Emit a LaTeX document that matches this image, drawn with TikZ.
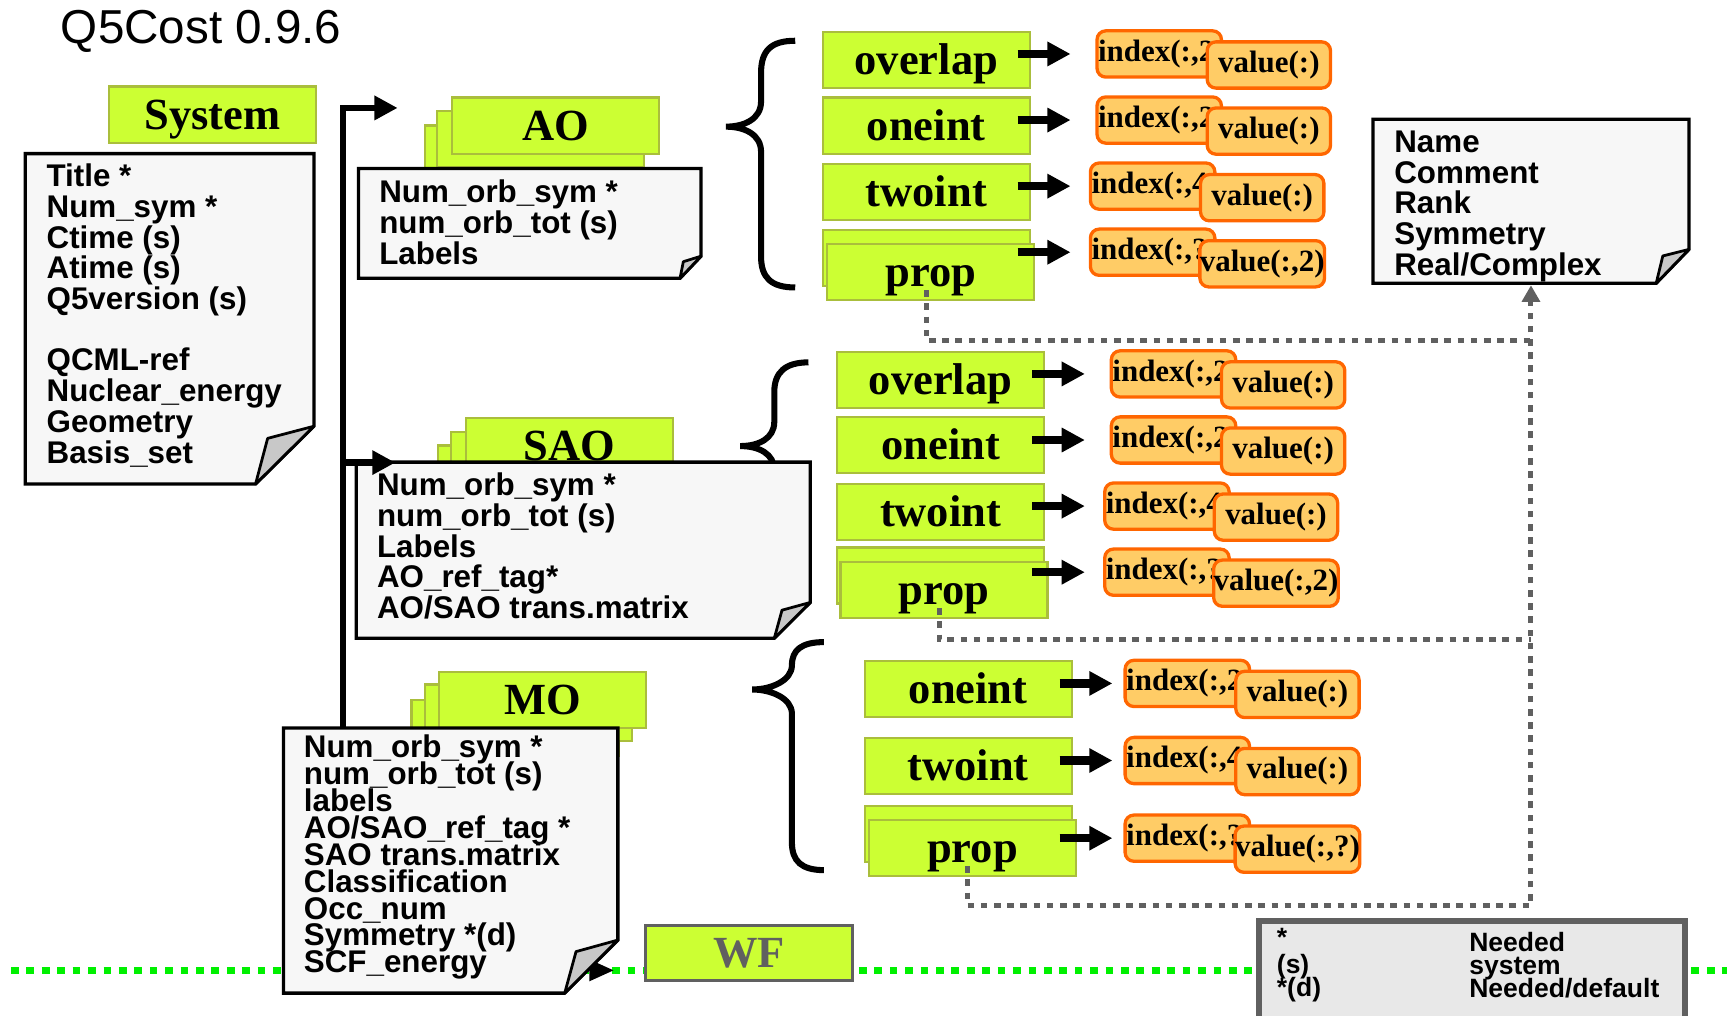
\documentclass[tikz,border=0pt]{standalone}
\usepackage{fontspec}
\newfontfamily\arialf{Liberation Sans}
\newfontfamily\timesf{Liberation Serif}
\usetikzlibrary{arrows.meta}
\definecolor{lfill}{RGB}{204,255,51}
\definecolor{lbord}{RGB}{170,190,60}
\definecolor{ofill}{RGB}{255,204,102}
\definecolor{obord}{RGB}{255,102,0}
\definecolor{pagefill}{RGB}{247,247,247}
\definecolor{foldfill}{RGB}{200,200,200}
\definecolor{dotgray}{RGB}{96,96,96}
\definecolor{dotgreen}{RGB}{0,240,0}
\definecolor{legfill}{RGB}{232,232,232}
\lineskiplimit=-100pt
\tikzset{
  plate/.style={draw=lbord, fill=lfill, line width=0.04cm, minimum width=3.76cm, minimum height=1.02cm, inner sep=0pt},
  lbl/.style={plate, font=\timesf\bfseries\fontsize{23}{26}\selectfont, text height=15.2pt, text depth=0pt},
  ixbox/.style={draw=obord, fill=ofill, line width=0.06cm, rounded corners=0.16cm, minimum height=0.84cm, inner xsep=0.02cm, inner ysep=0pt, text width=2.22cm, align=left, font=\timesf\bfseries\fontsize{16}{18}\selectfont},
  valbox/.style={draw=obord, fill=ofill, line width=0.06cm, rounded corners=0.16cm, minimum width=2.24cm, minimum height=0.84cm, inner sep=0pt, font=\timesf\bfseries\fontsize{16}{18}\selectfont},
  page/.style={draw=black, fill=pagefill, line width=0.06cm},
  fold/.style={draw=black, fill=foldfill, line width=0.05cm, line join=round},
  notetxt/.style={anchor=north west, inner sep=0pt, align=left, font=\arialf\bfseries\fontsize{16.2}{15.88}\selectfont},
  legtxt/.style={anchor=north west, inner sep=0pt, align=left, font=\arialf\bfseries\fontsize{13.7}{12}\selectfont},
  fatarr/.style={line width=0.15cm, -{Triangle[length=0.42cm,width=0.42cm]}},
  spine/.style={line width=0.12cm, -{Triangle[length=0.42cm,width=0.42cm]}},
  brace/.style={line width=0.11cm},
  graydot/.style={draw=dotgray, line width=0.09cm, dash pattern=on 0.12cm off 0.12cm},
  greendot/.style={draw=dotgreen, line width=0.12cm, dash pattern=on 0.14cm off 0.14cm}
}
\begin{document}
\begin{tikzpicture}[x=0.02cm,y=-0.02cm]
\useasboundingbox (0,0) rectangle (1568,922);

\coordinate (gL) at (10,881);
\coordinate (gR) at (1568,881);
\draw[greendot] (gL) -- (gR);
\fill (535,871) -- (557,881) -- (535,891) -- cycle;

\node[anchor=base west, inner sep=0pt, font=\arialf\fontsize{24.6}{28}\selectfont] (title) at (55,39.5) {Q5Cost 0.9.6};

\node[lbl] (sys) at (193,104) {System};
\draw[page] (23,139.5) -- (285,139.5) -- (285,387) -- (232,439.5) -- (23,439.5) -- cycle;
\draw[fold] (285,387) -- (243,398) -- (232,439.5) -- cycle;
\node[notetxt] (sysTxt) at (42,148.4) {Title *\\Num\_sym *\\Ctime (s)\\Atime (s)\\Q5version (s)\\[15.88pt]QCML-ref\\Nuclear\_energy\\Geometry\\Basis\_set};

\draw[brace] (722,37) .. controls (700,37) and (691,46) .. (691,66) -- (691,92) .. controls (691,108) and (676,115) .. (659,115) .. controls (676,115) and (691,122) .. (691,138) -- (691,233) .. controls (691,252) and (700,261) .. (722,261);
\draw[brace] (734,329) .. controls (713,329) and (703,338) .. (703,356) -- (703,383) .. controls (703,398) and (689,405) .. (672,405) .. controls (689,405) and (703,412) .. (703,427) -- (703,480) .. controls (703,498) and (713,505) .. (734,505);
\draw[brace] (748,583) .. controls (728,583) and (719,590) .. (719,604) .. controls (719,618) and (700,626) .. (683,626) .. controls (700,626) and (719,634) .. (719,648) -- (719,765) .. controls (719,782) and (728,790) .. (748,790);

\node[plate] (aoB) at (480,139.5) {};
\node[plate] (aoM) at (490.5,126) {};
\node[lbl] (ao) at (504.5,114) {AO};
\draw[page] (325.5,153) -- (636.5,153) -- (636.5,232.6) -- (617.4,252.7) -- (325.5,252.7) -- cycle;
\draw[fold] (636.5,232.6) -- (620.4,237.6) -- (617.4,252.7) -- cycle;
\node[notetxt] (aoTxt) at (344,163) {Num\_orb\_sym *\\num\_orb\_tot (s)\\Labels};

\node[plate] (saoB) at (492,430) {};
\node[plate] (saoM) at (503.6,417.5) {};
\node[lbl] (sao) at (517,405) {SAO};
\draw[page] (323.5,419.6) -- (735.6,419.6) -- (735.6,547) -- (703,579.5) -- (323.5,579.5) -- cycle;
\draw[fold] (735.6,547) -- (710,554) -- (703,579.5) -- cycle;
\node[notetxt] (saoTxt) at (342,429) {Num\_orb\_sym *\\num\_orb\_tot (s)\\Labels\\AO\_ref\_tag*\\AO/SAO trans.matrix};

\node[plate] (moB) at (467.5,661) {};
\node[plate] (moM) at (479.5,647) {};
\node[lbl] (mo) at (492.75,635.5) {MO};
\draw[page] (257.4,661) -- (561,661) -- (561,853.5) -- (512.7,901.7) -- (257.4,901.7) -- cycle;
\draw[fold] (561,853.5) -- (523,864) -- (512.7,901.7) -- cycle;
\node[notetxt, font=\arialf\bfseries\fontsize{16.2}{13.89}\selectfont] (moTxt) at (275.6,667) {Num\_orb\_sym *\\num\_orb\_tot (s)\\labels\\AO/SAO\_ref\_tag *\\SAO trans.matrix\\Classification\\Occ\_num\\Symmetry *(d)\\SCF\_energy};

\coordinate (aoIn) at (361,98);
\coordinate (saoIn) at (359,420);
\coordinate (spBot) at (311.5,661);
\draw[spine] (spBot) |- (aoIn);
\draw[spine] (spBot |- saoIn) -- (saoIn);

\node[lbl, draw=dotgray, text=dotgray, line width=0.06cm, minimum height=1cm] (wf) at (680.3,865) {WF};

\node[lbl] (aoOv) at (841,54.2) {overlap};
\node[lbl] (aoOne) at (841,114) {oneint};
\node[lbl] (aoTwo) at (841,174.5) {twoint};
\node[plate] (aoPrB) at (841,234.3) {};
\node[lbl] (aoPr) at (845,247) {prop};
\node[ixbox] (aoOvI) at (1052.5,49) {index(:,2};
\node[valbox] (aoOvV) at (1152,59) {value(:)};
\node[ixbox] (aoOneI) at (1052.5,109) {index(:,2};
\node[valbox] (aoOneV) at (1152,119) {value(:)};
\node[ixbox] (aoTwoI) at (1046.5,169) {index(:,4};
\node[valbox] (aoTwoV) at (1146,179.5) {value(:)};
\node[ixbox] (aoPrI) at (1046.5,229) {index(:,?};
\node[valbox] (aoPrV) at (1146,239.5) {value(:,2)};
\draw[fatarr] ([xshift=-0.24cm]aoOv.east |- aoOvI.west) -- ([xshift=0.72cm]aoOv.east |- aoOvI.west);
\draw[fatarr] ([xshift=-0.24cm]aoOne.east |- aoOneI.west) -- ([xshift=0.72cm]aoOne.east |- aoOneI.west);
\draw[fatarr] ([xshift=-0.24cm]aoTwo.east |- aoTwoI.west) -- ([xshift=0.72cm]aoTwo.east |- aoTwoI.west);
\draw[fatarr] ([xshift=-0.24cm]aoPrB.east |- aoPrI.west) -- ([xshift=0.72cm]aoPrB.east |- aoPrI.west);

\node[lbl] (saoOv) at (854,345) {overlap};
\node[lbl] (saoOne) at (854,404) {oneint};
\node[lbl] (saoTwo) at (854,465) {twoint};
\node[plate] (saoPrB) at (854,522.5) {};
\node[lbl] (saoPr) at (857,535.7) {prop};
\node[ixbox] (saoOvI) at (1065.5,339.5) {index(:,2};
\node[valbox] (saoOvV) at (1165,349.5) {value(:)};
\node[ixbox] (saoOneI) at (1065.5,399.5) {index(:,2};
\node[valbox] (saoOneV) at (1165,409.5) {value(:)};
\node[ixbox] (saoTwoI) at (1059.5,459.5) {index(:,4};
\node[valbox] (saoTwoV) at (1158.5,469.5) {value(:)};
\node[ixbox] (saoPrI) at (1059.5,519.5) {index(:,?};
\node[valbox] (saoPrV) at (1158.5,529.5) {value(:,2)};
\draw[fatarr] ([xshift=-0.24cm]saoOv.east |- saoOvI.west) -- ([xshift=0.72cm]saoOv.east |- saoOvI.west);
\draw[fatarr] ([xshift=-0.24cm]saoOne.east |- saoOneI.west) -- ([xshift=0.72cm]saoOne.east |- saoOneI.west);
\draw[fatarr] ([xshift=-0.24cm]saoTwo.east |- saoTwoI.west) -- ([xshift=0.72cm]saoTwo.east |- saoTwoI.west);
\draw[fatarr] ([xshift=-0.24cm]saoPrB.east |- saoPrI.west) -- ([xshift=0.72cm]saoPrB.east |- saoPrI.west);

\node[lbl] (moOne) at (879,625.5) {oneint};
\node[lbl] (moTwo) at (879,695.5) {twoint};
\node[plate] (moPrB) at (879,757) {};
\node[lbl] (moPr) at (883,770) {prop};
\node[ixbox] (moOneI) at (1078,620.5) {index(:,2};
\node[valbox] (moOneV) at (1178,630.5) {value(:)};
\node[ixbox] (moTwoI) at (1078,690.5) {index(:,4};
\node[valbox] (moTwoV) at (1178,700.5) {value(:)};
\node[ixbox] (moPrI) at (1078,761) {index(:,?};
\node[valbox] (moPrV) at (1178,771) {value(:,?)};
\draw[fatarr] ([xshift=-0.24cm]moOne.east |- moOneI.west) -- ([xshift=0.72cm]moOne.east |- moOneI.west);
\draw[fatarr] ([xshift=-0.24cm]moTwo.east |- moTwoI.west) -- ([xshift=0.72cm]moTwo.east |- moTwoI.west);
\draw[fatarr] ([xshift=-0.24cm]moPrB.east |- moPrI.west) -- ([xshift=0.72cm]moPrB.east |- moPrI.west);

\draw[page] (1246.6,108.3) -- (1533.5,108.3) -- (1533.5,226.4) -- (1503.7,257.2) -- (1246.6,257.2) -- cycle;
\draw[fold] (1533.5,226.4) -- (1509.7,232.4) -- (1503.7,257.2) -- cycle;
\node[notetxt] (attrTxt) at (1265.6,118.4) {Name\\Comment\\Rank\\Symmetry\\Real/Complex};

\coordinate (jA) at (1390,309);
\coordinate (jS) at (1390,581);
\coordinate (jM) at (1390,822);
\coordinate (attrB) at (1390,259);
\draw[graydot] ([xshift=-0.08cm,yshift=0.2cm]aoPr.south) |- (jA);
\draw[graydot] ([xshift=-0.08cm,yshift=0.2cm]saoPr.south) |- (jS);
\draw[graydot,-{Triangle[length=0.3cm,width=0.32cm]}] ([xshift=-0.1cm,yshift=0.2cm]moPr.south) |- (jM) -- (attrB);

\node[draw=dotgray, fill=legfill, line width=0.11cm, minimum width=7.74cm, minimum height=2.2cm, inner sep=0pt] (legend) at (1336.5,891) {};
\node[legtxt] (legL) at (1159,842) {*\\[2.2pt](s)\\*(d)};
\node[legtxt] (legR) at (1333.7,846) {Needed\\system\\Needed/default};
\end{tikzpicture}
\end{document}
